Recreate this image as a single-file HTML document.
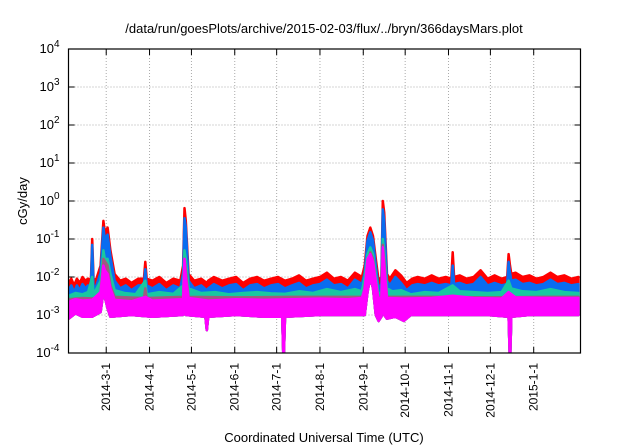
<!DOCTYPE html>
<html><head><meta charset="utf-8"><style>
html,body{margin:0;padding:0;background:#fff;}
svg{display:block;font-family:"Liberation Sans",sans-serif;}
</style></head><body>
<svg id="chart" width="640" height="448"></svg>
<script>
// day offsets from 2014-02-02
const xTickLabels = ["2014-3-1","2014-4-1","2014-5-1","2014-6-1","2014-7-1","2014-8-1","2014-9-1","2014-10-1","2014-11-1","2014-12-1","2015-1-1"];
const xTickDays = [27,58,88,119,149,180,211,241,272,302,333];
const yTickExps = [-4,-3,-2,-1,0,1,2,3,4];
const redPts = [[0,.007],[2,.009],[4,.006],[6,.009],[8,.007],[10,.01],[12,.008],[14,.009],[16,.008],[17,.1],[18,.008],[20,.009],[23,.02],[25,.3],[26,.15],[28,.2],[30,.05],[33,.012],[37,.008],[41,.009],[45,.007],[50,.009],[54,.009],[55,.025],[56,.009],[60,.008],[65,.01],[70,.007],[75,.009],[80,.008],[82,.02],[83,.65],[84,.3],[86,.012],[90,.008],[95,.009],[99,.007],[100,.008],[104,.01],[110,.008],[115,.009],[120,.01],[125,.007],[130,.009],[135,.01],[140,.008],[145,.009],[150,.01],[155,.008],[160,.009],[165,.011],[170,.008],[175,.009],[180,.01],[185,.013],[190,.009],[195,.01],[200,.008],[205,.013],[210,.01],[212,.02],[214,.12],[216,.2],[218,.12],[220,.03],[222,.008],[224,.01],[225,1.0],[226,.5],[228,.012],[230,.009],[234,.015],[238,.011],[242,.007],[246,.009],[250,.01],[255,.009],[260,.011],[265,.009],[270,.01],[274,.009],[275,.045],[276,.01],[280,.011],[285,.009],[290,.01],[295,.015],[300,.009],[305,.011],[310,.009],[314,.01],[315,.04],[316,.02],[317,.012],[320,.013],[325,.01],[330,.011],[335,.009],[340,.01],[345,.013],[350,.01],[355,.011],[360,.009],[365,.01]];
const bluePts = [[0,.0045],[2,.006],[4,.004],[6,.006],[8,.0045],[10,.0065],[12,.005],[14,.006],[16,.005],[17,.07],[18,.005],[20,.006],[23,.013],[25,.2],[26,.1],[28,.13],[30,.035],[33,.008],[37,.005],[41,.006],[45,.0045],[50,.006],[54,.006],[55,.016],[56,.006],[60,.005],[65,.0065],[70,.0045],[75,.006],[80,.005],[82,.013],[83,.35],[84,.2],[86,.008],[90,.005],[95,.006],[99,.0045],[100,.005],[104,.0065],[110,.005],[115,.006],[120,.0065],[125,.0045],[130,.006],[135,.0065],[140,.005],[145,.006],[150,.0065],[155,.005],[160,.006],[165,.007],[170,.005],[175,.006],[180,.0065],[185,.0085],[190,.006],[195,.0065],[200,.005],[205,.0085],[210,.0065],[212,.013],[214,.09],[216,.15],[218,.09],[220,.02],[222,.005],[224,.0065],[225,.6],[226,.3],[228,.008],[230,.006],[234,.01],[238,.007],[242,.0045],[246,.006],[250,.0065],[255,.006],[260,.007],[265,.006],[270,.0065],[274,.006],[275,.02],[276,.0065],[280,.007],[285,.006],[290,.0065],[295,.01],[300,.006],[305,.007],[310,.006],[314,.0065],[315,.025],[316,.013],[317,.008],[320,.0085],[325,.0065],[330,.007],[335,.006],[340,.0065],[345,.0085],[350,.0065],[355,.007],[360,.006],[365,.0065]];
const tealPts = [[0,.0032],[5,.0038],[10,.0035],[14,.004],[17,.01],[18,.0035],[23,.008],[25,.05],[26,.03],[28,.03],[30,.012],[33,.0045],[40,.0038],[48,.0035],[55,.008],[56,.0035],[65,.004],[75,.0036],[82,.006],[83,.05],[84,.03],[86,.005],[95,.0038],[105,.004],[115,.0035],[125,.0038],[135,.004],[145,.0037],[155,.0036],[165,.0042],[175,.0038],[185,.0048],[195,.004],[205,.0048],[210,.0042],[212,.01],[214,.04],[216,.06],[218,.04],[220,.012],[222,.0035],[224,.004],[225,.1],[226,.05],[228,.005],[232,.0042],[238,.0045],[245,.0035],[255,.004],[265,.0038],[275,.006],[280,.0042],[290,.004],[300,.0038],[310,.004],[315,.008],[317,.005],[325,.0042],[335,.004],[345,.0048],[355,.004],[365,.0038]];
const brownPts = [[0,.0026],[10,.0028],[20,.0027],[23,.004],[25,.03],[28,.02],[30,.006],[33,.003],[54,.0028],[55,.005],[56,.0028],[70,.0029],[82,.003],[83,.03],[84,.015],[86,.003],[120,.0029],[160,.003],[200,.003],[211,.003],[212,.006],[216,.045],[218,.03],[220,.008],[222,.0027],[224,.003],[225,.07],[226,.03],[228,.003],[260,.003],[300,.0029],[340,.003],[365,.003]];
const magHighPts = [[0,.0022],[5,.0026],[10,.0024],[17,.0025],[23,.004],[25,.02],[26,.015],[28,.012],[30,.005],[33,.0025],[45,.0023],[55,.003],[60,.0024],[82,.0026],[83,.03],[84,.01],[86,.0028],[100,.0024],[120,.0026],[140,.0025],[160,.0026],[180,.0027],[200,.0026],[210,.0028],[212,.005],[214,.03],[216,.04],[218,.025],[220,.008],[222,.0025],[224,.003],[225,.06],[226,.02],[228,.0028],[240,.0027],[260,.0028],[275,.0032],[290,.0028],[310,.0027],[315,.004],[320,.0029],[340,.0028],[365,.0028]];
const magLowPts = [[0,.0008],[5,.0011],[10,.0009],[17,.0009],[23,.0012],[25,.004],[26,.003],[28,.0015],[30,.0009],[45,.001],[60,.0009],[82,.001],[83,.002],[84,.001],[98,.0009],[99,.0004],[100,.0009],[120,.001],[140,.0009],[153,.0009],[154,.00005],[155,.0009],[180,.001],[200,.001],[212,.001],[214,.004],[216,.01],[218,.005],[220,.001],[222,.0007],[224,.0009],[225,.003],[226,.001],[228,.0008],[234,.0009],[240,.0007],[245,.001],[260,.001],[280,.001],[300,.001],[315,.0009],[316,.00005],[317,.0009],[330,.001],[350,.001],[365,.001]];

const NS="http://www.w3.org/2000/svg";
const svg=document.getElementById('chart');
const L=68.5,R=580.5,T=49,B=353;
const x=d=>L+(d/366.5)*(R-L);
const y=v=>B-(Math.log10(v)+4)/8*(B-T);
function mk(tag,attrs,parent){const e=document.createElementNS(NS,tag);for(const k in attrs)e.setAttribute(k,attrs[k]);(parent||svg).appendChild(e);return e;}

yTickExps.forEach(e=>{
  const yy=y(Math.pow(10,e));
  if(e>-4&&e<4){const g=mk('line',{x1:L,x2:R,y1:yy,y2:yy,stroke:'#aaa','stroke-dasharray':'1,2','stroke-width':1});
  
  }
  const t=mk('text',{x:L-9,y:yy+4,'text-anchor':'end','font-size':13,fill:'#000'});
  
  
  t.textContent='10';
  const s=mk('tspan',{dy:-6,'font-size':10},t);s.textContent=String(e);
  mk('line',{x1:L,x2:L+6,y1:yy,y2:yy,stroke:'#000'});
  mk('line',{x1:R,x2:R-6,y1:yy,y2:yy,stroke:'#000'});
});
xTickDays.forEach((d,i)=>{
  const xx=x(d);
  const g=mk('line',{x1:xx,x2:xx,y1:T,y2:B,stroke:'#aaa','stroke-dasharray':'1,2','stroke-width':1});
  
  
  mk('line',{x1:xx,x2:xx,y1:B,y2:B-6,stroke:'#000'});
  mk('line',{x1:xx,x2:xx,y1:T,y2:T+6,stroke:'#000'});
  const t=mk('text',{x:0,y:0,'text-anchor':'end','font-size':12,fill:'#000',transform:`translate(${xx+4},${B+10}) rotate(-90)`});
  
  
  t.textContent=xTickLabels[i];
});

const clip=mk('clipPath',{id:'pc'});mk('rect',{x:L,y:T,width:R-L,height:B-T},clip);
const g=mk('g',{'clip-path':'url(#pc)'});
function areaG(pts,color,name,lowPts){
  let d='M'+x(pts[0][0])+','+y(pts[0][1]);
  pts.forEach(p=>{d+=' L'+x(p[0]).toFixed(1)+','+y(p[1]).toFixed(1);});
  for(let i=lowPts.length-1;i>=0;i--)d+=' L'+x(lowPts[i][0]).toFixed(1)+','+y(lowPts[i][1]).toFixed(1);
  d+=' Z';
  const p=mk('path',{d:d,fill:color,stroke:color,'stroke-width':2.5,'stroke-linejoin':'round'},g);
  
  
}
areaG(redPts,'#ff0000','series-red',magLowPts);
areaG(bluePts,'#0a6cf0','series-blue',magLowPts);
areaG(tealPts,'#18c8a0','series-teal',magLowPts);
areaG(brownPts,'#a05a80','series-brown',magLowPts);
areaG(magHighPts,'#ff00ff','series-magenta',magLowPts);

const f=mk('rect',{x:L,y:T,width:R-L,height:B-T,fill:'none',stroke:'#000','stroke-width':1.2});



const title=mk('text',{x:324,y:33,'text-anchor':'middle','font-size':13,fill:'#000'});


title.textContent='/data/run/goesPlots/archive/2015-02-03/flux/../bryn/366daysMars.plot';
const yl=mk('text',{x:0,y:0,'text-anchor':'middle','font-size':13,fill:'#000',transform:'translate(27,201) rotate(-90)'});


yl.textContent='cGy/day';
const xl=mk('text',{x:324,y:442,'text-anchor':'middle','font-size':13,fill:'#000'});


xl.textContent='Coordinated Universal Time (UTC)';
</script>
</body></html>
